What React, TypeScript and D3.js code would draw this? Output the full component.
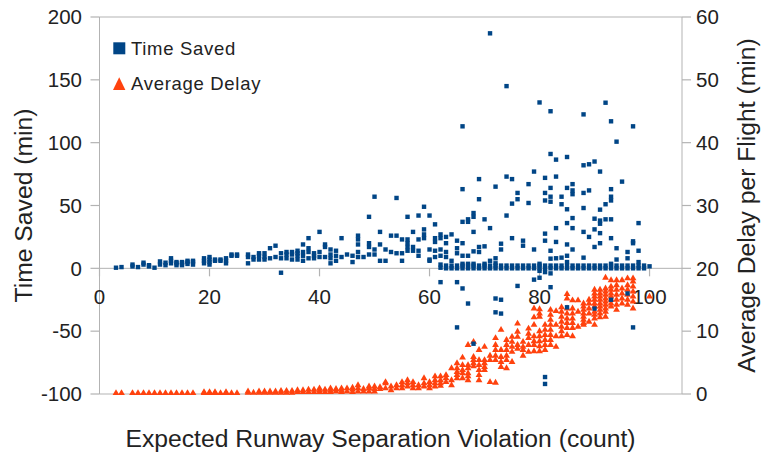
import React from "react";
import * as d3 from "d3";

// x tick values and axis ticks
const xTicks = [0, 20, 40, 60, 80, 100];
const yLeftTicks = [-100, -50, 0, 50, 100, 150, 200];
const yRightTicks = [0, 10, 20, 30, 40, 50, 60];

// Time Saved (min) per expected violation count
const timeSaved: [number, number[]][] = [
  [3, [0.5]], [4, [1]], [6, [1.5, 3]], [7, [1]], [8, [3, 4.5]], [9, [1.5, 2.5]], [10, [0.5]],
  [11, [3, 5.5]], [12, [2.5, 4.5]], [13, [4, 6, 8]], [14, [2.5, 4, 5]], [15, [2.5, 4, 5]],
  [16, [3.5, 5, 6]], [17, [3, 5, 6]], [19, [4, 6, 8]], [20, [3, 5, 7, 9]], [21, [6, 7]],
  [22, [6, 7]], [23, [4, 6, 8]], [24, [10, 11]], [25, [10, 11]], [27, [4, 9, 11]], [28, [7, 9]],
  [29, [7, 10, 12]], [30, [7, 9, 12]], [31, [8, 16]], [32, [9, 18]], [33, [-3.5, 8, 12]],
  [34, [8, 11, 13]], [35, [7, 11, 13]], [36, [7, 10, 12, 14]], [37, [6, 10, 13, 19]],
  [38, [8, 13, 16, 24]], [39, [8, 10, 12]], [40, [9, 13, 29]], [41, [9, 17, 19]],
  [42, [4, 8, 11, 15]], [43, [6, 10, 14]], [44, [9, 24]], [45, [11]], [46, [5, 10]],
  [47, [9, 13, 19, 23, 26]], [48, [9]], [49, [11, 17, 20, 41]], [50, [11, 15, 57]],
  [51, [6, 19, 29]], [52, [6, 15]], [53, [13, 26]], [54, [12, 26, 56]], [55, [6, 12, 23]],
  [56, [14, 17, 20, 23, 41]], [57, [14, 17, 29]], [58, [10, 14, 23, 42]], [59, [24, 27, 31, 49]],
  [60, [6, 7, 15, 42]], [61, [9, 14, 21, 24, 35]], [62, [-11, 0.5, 3, 10, 15, 24, 27]],
  [63, [0, 2.2, 9, 13, 20, 25]], [64, [0, 2.2, 6, 27]], [65, [-47, -11, 0, 2.2, 12, 16, 22]],
  [66, [-16, 0, 2.2, 3.6, 10, 20, 37, 63, 113]], [67, [-28, 0, 2.2, 3.6, 10, 37, 39]],
  [68, [-60, 0, 2.2, 3.6, 13.5, 29, 41, 44]], [69, [0, 2.2, 13, 17, 55, 71]],
  [70, [0, 2.2, 3.6, 17.5, 39]], [71, [0, 2.2, 6, 32, 187]], [72, [-35, -24, 0, 2.2, 4, 8, 65]],
  [73, [-36, -25, 0, 2.2, 15, 19.6]], [74, [0, 2.2, 42, 73, 145]], [75, [0, 2.2, 24, 51.5, 71]],
  [76, [-14, 0, 2.2, 55, 60]], [77, [0, 2.2, 18, 22]], [78, [0, 2.2, 52, 67]],
  [79, [-9, 0, 2.2, 15, 77]], [80, [-7.5, -2, 0, 2.2, 3.6, 132]],
  [81, [-92, -86.5, -3, 0, 2.2, 22, 27.6, 54, 60, 72]],
  [82, [-15, -4, 0, 2.2, 7.7, 14, 53, 57, 64, 91, 125]], [83, [0, 2.2, 8, 21, 32, 73, 86.5]],
  [84, [0, 2.2, 8.5, 51, 57]], [85, [-31, 0, 2.2, 5, 10, 19, 36, 47, 64, 88.6]],
  [86, [0, 2.2, 15, 32, 40, 59, 62, 67]], [87, [0, 2.2]],
  [88, [0, 2.2, 8.5, 29, 48, 60, 82, 122.5]], [89, [0, 2.2, 25, 62, 82.8]],
  [90, [-32, 0, 2.2, 17, 31, 39.5, 85]], [91, [0, 2.2, 20, 28, 35.5, 38, 46.7, 77]],
  [92, [0, 2.2, 39, 51, 131.8]], [93, [-25, 0, 2.2, 3.6, 24, 39, 54, 57, 63, 117]],
  [94, [0, 2.2, 7, 16, 100.8]], [95, [0, 2.2, 69]], [96, [-20, 0, 2.2, 8, 13]],
  [97, [-47, 0, 2.2, 20, 21.5, 113]], [98, [0, 2.2, 5, 14, 36]], [99, [0, 2.2]], [100, [1.6]],
];

// Average Delay per Flight (min) per expected violation count
const averageDelay: [number, number[]][] = [
  [3, [0.15]], [4, [0.15]], [6, [0.15]], [7, [0.15]], [8, [0.15]], [9, [0.15]], [10, [0.15]],
  [11, [0.15]], [12, [0.15]], [13, [0.15]], [14, [0.15]], [15, [0.15]], [16, [0.15]], [17, [0.15]],
  [19, [0.15, 0.3]], [20, [0.15, 0.3]], [21, [0.15, 0.3]], [22, [0.15]], [23, [0.15, 0.3]],
  [24, [0.15]], [25, [0.15]], [27, [0.2, 0.4]], [28, [0.2]], [29, [0.2, 0.4]], [30, [0.2, 0.4]],
  [31, [0.2, 0.4]], [32, [0.2, 0.4]], [33, [0.2, 0.5]], [34, [0.2, 0.5]], [35, [0.2, 0.5]],
  [36, [0.3, 0.6]], [37, [0.3, 0.6]], [38, [0.3, 0.7]], [39, [0.3, 0.7]], [40, [0.3, 0.6, 0.9]],
  [41, [0.3, 0.7]], [42, [0.3, 0.6, 0.9]], [43, [0.4, 0.8]], [44, [0.3, 0.6, 0.9]], [45, [0.4, 0.9]],
  [46, [0.3, 0.7, 1.0]], [47, [0.4, 0.9, 1.4]], [48, [0.4, 0.8]], [49, [0.4, 0.9, 1.2]],
  [50, [0.4, 0.8, 1.2]], [51, [0.8, 1.1]], [52, [0.9, 1.7, 1.9]], [53, [0.6, 1.2]], [54, [0.9, 1.4]],
  [55, [0.9, 1.4, 1.9]], [56, [1.2, 1.7, 2.2]], [57, [0.9, 1.4, 1.9]], [58, [0.9, 1.4]],
  [59, [1.2, 1.7, 2.5]], [60, [0.9, 1.4, 1.9]], [61, [1.2, 1.7, 2.2, 2.8]], [62, [1.3, 1.7, 2.2, 2.8]],
  [63, [1.9, 2.5, 3.0]], [64, [1.4, 2.2, 4.1]], [65, [2.5, 3.0, 3.5, 4.1, 4.9]],
  [66, [2.5, 3.3, 3.8, 4.6, 5.8]], [67, [2.2, 2.8, 3.3, 4.1, 4.6, 7.8]],
  [68, [4.4, 4.9, 5.4, 5.9, 8.3]], [69, [2.2, 3.0, 3.8, 4.6, 5.4, 7.0]],
  [70, [3.8, 4.3, 4.9, 5.4, 7.5]], [71, [1.9, 5.4, 6.1]], [72, [1.8, 5.4, 6.1, 7.0, 7.8, 8.9]],
  [73, [4.3, 5.1, 5.9, 7.0, 10.2]], [74, [4.1, 5.4, 6.1, 7.0, 7.8, 8.6]],
  [75, [5.1, 6.7, 7.5, 8.3, 9.1]], [76, [7.2, 7.8, 9.1, 9.9, 11.2]], [77, [6.1, 7.0, 7.5, 8.3]],
  [78, [6.7, 7.8, 8.9, 9.6, 10.4]], [79, [6.8, 7.8, 8.4, 9.2, 11.0, 12.2, 13.6]],
  [80, [6.8, 7.6, 8.4, 9.2, 10.0, 12.3, 12.8, 13.5]], [81, [7.0, 7.8, 8.6, 9.4, 10.2, 11.0]],
  [82, [7.8, 8.6, 9.4, 10.2, 11.0, 11.8, 12.6, 13.4]], [83, [7.5, 9.2, 11.0, 13.2]],
  [84, [9.2, 10.0, 10.7, 11.5, 12.3, 13.1, 13.8]],
  [85, [9.4, 10.5, 11.3, 12.0, 12.8, 13.6, 15.2, 15.9]],
  [86, [9.2, 10.5, 11.3, 12.0, 12.8, 13.6, 14.9]], [87, [10.7, 13.1, 14.9]],
  [88, [11.0, 11.3, 11.8, 12.3, 12.8, 13.4, 13.9, 14.4]], [89, [11.5, 12.8, 13.6, 14.4, 15.0]],
  [90, [11.0, 12.0, 12.6, 13.1, 13.9, 14.4, 15.0, 15.5, 16.0, 16.6]],
  [91, [12.2, 12.8, 13.4, 13.9, 14.4, 15.0, 15.5, 16.0, 16.6]],
  [92, [12.3, 13.1, 13.6, 14.2, 14.7, 15.2, 15.8, 16.3, 16.8, 18.5]],
  [93, [13.9, 14.4, 15.0, 15.5, 16.0, 16.6, 17.1, 18.1]],
  [94, [13.4, 14.2, 15.0, 15.8, 16.6, 17.3, 18.1]], [95, [14.4, 15.2, 16.0, 16.8, 18.1]],
  [96, [14.2, 15.0, 15.8, 16.6, 17.3, 18.4]], [97, [13.6, 14.7, 15.5, 16.3, 17.1, 17.9, 18.4]],
  [100, [15.5]],
];

const BLUE = "#004586";
const ORANGE = "#ff420e";
const AXIS = "#b3b3b3";
const TEXT = "#222222";
const FONT = "'Liberation Sans', Arial, sans-serif";

export default function App() {
  const W = 761;
  const H = 453;
  const left = 99.5;
  const right = 682;
  const top = 17;
  const bottom = 394;

  const x = d3.scaleLinear().domain([0, 105.9]).range([left, right]);
  const yL = d3.scaleLinear().domain([-100, 200]).range([bottom, top]);
  const yR = d3.scaleLinear().domain([0, 60]).range([bottom, top]);

  const blueData = timeSaved.flatMap(([cx, vals]) => vals.map((v) => ({ cx, v })));
  const orangeData = averageDelay.flatMap(([cx, vals]) => vals.map((v) => ({ cx, v })));
  const tri = d3.symbol(d3.symbolTriangle, 20)() as string;
  const sq = 4.4;

  return (
    <svg
      width={W}
      height={H}
      style={{ position: "absolute", left: 0, top: 0, background: "#fff" }}
      fontFamily={FONT}
    >
      <rect x={0} y={0} width={W} height={H} fill="#fff" />
      {/* frame */}
      <line x1={left} x2={right} y1={top} y2={top} stroke={AXIS} strokeWidth={1} />
      <line x1={left} x2={right} y1={bottom} y2={bottom} stroke={AXIS} strokeWidth={1} />
      <line x1={left} x2={left} y1={top} y2={bottom} stroke={AXIS} strokeWidth={1} />
      <line x1={right} x2={right} y1={top} y2={bottom} stroke={AXIS} strokeWidth={1} />
      {/* x axis at 0 */}
      <line x1={left} x2={right} y1={yL(0)} y2={yL(0)} stroke={AXIS} strokeWidth={1} />
      {xTicks.map((t) => (
        <g key={"xt" + t}>
          <line x1={x(t)} x2={x(t)} y1={yL(0)} y2={yL(0) + 8} stroke={AXIS} strokeWidth={1.2} />
          <text x={x(t)} y={304} textAnchor="middle" fontSize={20.5} fill={TEXT}>
            {t}
          </text>
        </g>
      ))}
      {yLeftTicks.map((t) => (
        <g key={"yl" + t}>
          <line x1={left - 9} x2={left} y1={yL(t)} y2={yL(t)} stroke={AXIS} strokeWidth={1.2} />
          <text x={82} y={yL(t) + 7.3} textAnchor="end" fontSize={20.5} fill={TEXT}>
            {t}
          </text>
        </g>
      ))}
      {yRightTicks.map((t) => (
        <g key={"yr" + t}>
          <line x1={right} x2={right + 9} y1={yR(t)} y2={yR(t)} stroke={AXIS} strokeWidth={1.2} />
          <text x={696} y={yR(t) + 7.3} textAnchor="start" fontSize={20.5} fill={TEXT}>
            {t}
          </text>
        </g>
      ))}
      {/* orange series */}
      {orangeData.map((d, i) => (
        <path
          key={"o" + i}
          d={tri}
          transform={`translate(${x(d.cx)},${yR(d.v)})`}
          fill={ORANGE}
        />
      ))}
      {/* blue series */}
      {blueData.map((d, i) => (
        <rect
          key={"b" + i}
          x={x(d.cx) - sq / 2}
          y={yL(d.v) - sq / 2}
          width={sq}
          height={sq}
          fill={BLUE}
        />
      ))}
      {/* legend */}
      <rect x={113.3} y={42.3} width={12} height={12} fill={BLUE} />
      <text x={131} y={55} fontSize={18.5} letterSpacing={0.7} fill={TEXT}>
        Time Saved
      </text>
      <path d="M113,90 L125.4,90 L119.2,77.3 Z" fill={ORANGE} />
      <text x={131} y={90} fontSize={18.5} letterSpacing={0.7} fill={TEXT}>
        Average Delay
      </text>
      {/* axis titles */}
      <text x={380.5} y={446.5} textAnchor="middle" fontSize={24.7} fill={TEXT}>
        Expected Runway Separation Violation (count)
      </text>
      <text
        transform={`translate(31.5, ${(top + bottom) / 2}) rotate(-90)`}
        textAnchor="middle"
        fontSize={24.7}
        fill={TEXT}
      >
        Time Saved (min)
      </text>
      <text
        transform={`translate(755, ${(top + bottom) / 2}) rotate(-90)`}
        textAnchor="middle"
        fontSize={24.7}
        fill={TEXT}
      >
        Average Delay per Flight (min)
      </text>
    </svg>
  );
}
